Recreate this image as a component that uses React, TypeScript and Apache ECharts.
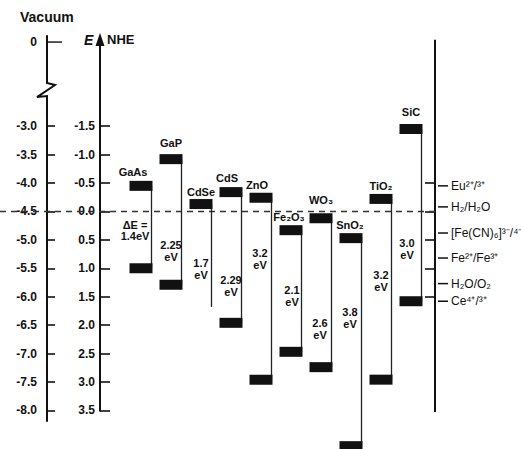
import React, { useEffect, useRef } from "react";
import * as echarts from "echarts";

// ---------- data ----------
const materials = ["GaAs", "GaP", "CdSe", "CdS", "ZnO", "Fe₂O₃", "WO₃", "SnO₂", "TiO₂", "SiC"];
const conductionBand = [-0.45, -0.92, -0.13, -0.34, -0.24, 0.33, 0.12, 0.47, -0.22, -1.45];
const valenceBand = [1.0, 1.29, 1.68, 1.96, 2.96, 2.47, 2.74, 4.13, 2.96, 1.58];
const valenceBarShown = [true, true, false, true, true, true, true, true, true, true];
const bandGapLabels = ["1.4", "2.25", "1.7", "2.29", "3.2", "2.1", "2.6", "3.8", "3.2", "3.0"];
const nheTicks = [-1.5, -1.0, -0.5, 0, 0.5, 1.0, 1.5, 2.0, 2.5, 3.0, 3.5];
const vacuumTicks = [-3.0, -3.5, -4.0, -4.5, -5.0, -5.5, -6.0, -6.5, -7.0, -7.5, -8.0];
const vacuumZeroAt = -1.52; // where the broken vacuum axis shows "0"
const rightAxisTicks = [-0.5, 0, 0.5, 1.0, 1.5];
const redoxCouples = ["Eu²⁺/³⁺", "H₂/H₂O", "[Fe(CN)₆]³⁻/⁴⁻", "Fe²⁺/Fe³⁺", "H₂O/O₂", "Ce⁴⁺/³⁺"];
const redoxLevels = [-0.45, -0.08, 0.38, 0.82, 1.27, 1.58];

// ---------- layout ----------
const gapLabelAt = [0.24, 0.59, 0.91, 1.21, 0.73, 1.38, 1.96, 1.77, 1.12, 0.56];
const gapLabelDx = [-6, 0, 0, 0, -1, 1, -1, -1, 0, -4];
const nameDx = [-8, 0, 0, -4, -4, -2, 0, -1, 0, 0];
const nameGap = [9, 11, 7, 9, 8, 8, 13, 8, 8, 12];

const FONT = "'Liberation Sans', Arial, Helvetica, sans-serif";
const INK = "#111";
const BAR_W = 23;
const BAR_H = 10;
const NHE_MIN = -3.72;
const NHE_MAX = 4.18;

function txt(text: string, x: number, y: number, size: number, weight: string, align: string) {
  return {
    type: "text",
    x,
    y,
    style: {
      text,
      fill: INK,
      fontSize: size,
      fontWeight: weight,
      fontFamily: FONT,
      align,
      verticalAlign: "middle",
      textAlign: align,
      textVerticalAlign: "middle",
    },
  };
}

export default function App() {
  const ref = useRef<HTMLDivElement>(null);

  useEffect(() => {
    document.body.style.margin = "0";
    if (!ref.current) return;
    const chart = echarts.init(ref.current, null, { renderer: "svg" });

    const labelStyle = { color: INK, fontSize: 12, fontWeight: "bold", fontFamily: FONT };

    const option: any = {
      animation: false,
      backgroundColor: "#fff",
      grid: { left: 100, right: 86, top: 0, bottom: 0 },
      xAxis: { type: "value", min: -1.3667, max: 9.8, show: false },
      yAxis: [
        {
          type: "value",
          inverse: true,
          min: NHE_MIN,
          max: NHE_MAX,
          position: "left",
          axisLine: { show: false, onZero: false },
          splitLine: { show: false },
          axisTick: { show: true, inside: true, length: 10, customValues: nheTicks, lineStyle: { color: INK, width: 1.6 } },
          axisLabel: { ...labelStyle, margin: 5, customValues: nheTicks, formatter: (v: number) => v.toFixed(1) },
        },
        {
          type: "value",
          min: -4.5 - NHE_MAX,
          max: -4.5 - NHE_MIN,
          position: "left",
          offset: 53,
          axisLine: { show: false, onZero: false },
          splitLine: { show: false },
          axisTick: { show: true, inside: true, length: 8, customValues: vacuumTicks, lineStyle: { color: INK, width: 1.6 } },
          axisLabel: {
            ...labelStyle,
            margin: 10,
            customValues: [vacuumZeroAt, ...vacuumTicks],
            formatter: (v: number) => (v > -2 ? "0" : v.toFixed(1)),
          },
        },
        {
          type: "value",
          inverse: true,
          min: NHE_MIN,
          max: NHE_MAX,
          position: "right",
          axisLine: { show: false, onZero: false },
          splitLine: { show: false },
          axisTick: { show: true, inside: true, length: 10, customValues: rightAxisTicks, lineStyle: { color: INK, width: 1.6 } },
          axisLabel: { show: false },
        },
      ],
      graphic: [
        { type: "text", left: 20, top: 10, style: { text: "Vacuum", fill: INK, fontSize: 14, fontWeight: "bold", fontFamily: FONT } },
        { type: "text", left: 84, top: 33, style: { text: "E", fill: INK, fontSize: 14, fontWeight: "bold", fontStyle: "italic", fontFamily: FONT } },
        { type: "text", left: 107, top: 33, style: { text: "NHE", fill: INK, fontSize: 13, fontWeight: "bold", fontFamily: FONT } },
      ],
      series: [
        {
          type: "custom",
          silent: true,
          clip: false,
          z: 1,
          data: [[0, 0]],
          renderItem: (params: any, api: any) => {
            const cs = params.coordSys;
            const leftX = cs.x;
            const rightX = cs.x + cs.width;
            const vacX = leftX - 53;
            const yAt = (e: number) => api.coord([0, e])[1];
            const children: any[] = [];
            // NHE axis with arrow
            const tip = yAt(-3.14);
            children.push({ type: "line", shape: { x1: leftX, y1: tip + 10, x2: leftX, y2: yAt(3.52) }, style: { stroke: INK, lineWidth: 2 } });
            children.push({ type: "polygon", shape: { points: [[leftX, tip], [leftX - 4.5, tip + 13], [leftX + 4.5, tip + 13]] }, style: { fill: INK } });
            // vacuum axis with break
            const b1 = yAt(-2.33);
            const b2 = yAt(-2.03);
            children.push({
              type: "polyline",
              shape: {
                points: [
                  [vacX, yAt(-3.1)],
                  [vacX, b1],
                  [vacX, b1 + 4],
                  [vacX + 8, b1 + 6],
                  [vacX - 10, b2 + 1],
                  [vacX, b2],
                  [vacX, yAt(3.7)],
                ],
              },
              style: { stroke: INK, lineWidth: 2, fill: null },
            });
            const z0 = yAt(-4.5 - vacuumZeroAt);
            children.push({ type: "line", shape: { x1: vacX, y1: z0, x2: vacX + 15, y2: z0 }, style: { stroke: INK, lineWidth: 1.4 } });
            // right axis
            children.push({ type: "line", shape: { x1: rightX, y1: yAt(-3.02), x2: rightX, y2: yAt(3.53) }, style: { stroke: INK, lineWidth: 2 } });
            // dashed E = 0 line
            const y0 = yAt(0);
            children.push({ type: "line", shape: { x1: 0, y1: y0, x2: rightX, y2: y0 }, style: { stroke: "#333", lineWidth: 1.4, lineDash: [6, 5] } });
            // redox couples
            redoxCouples.forEach((name, k) => {
              const y = yAt(redoxLevels[k]);
              children.push({ type: "line", shape: { x1: rightX + 3, y1: y, x2: rightX + 13, y2: y }, style: { stroke: INK, lineWidth: 1.5 } });
              children.push(txt(name, rightX + 16, y, 12, "normal", "left"));
            });
            return { type: "group", children };
          },
        },
        {
          type: "custom",
          silent: true,
          clip: false,
          z: 2,
          data: materials.map((_, i) => [i, conductionBand[i], valenceBand[i]]),
          renderItem: (params: any, api: any) => {
            const i = params.dataIndex;
            const xv = api.value(0);
            const cx = api.coord([xv, 0])[0];
            const yCB = api.coord([xv, api.value(1)])[1];
            const yVB = api.coord([xv, api.value(2)])[1];
            const half = BAR_W / 2;
            const children: any[] = [];
            children.push({ type: "line", shape: { x1: cx + half - 1, y1: yCB, x2: cx + half - 1, y2: yVB }, style: { stroke: "#222", lineWidth: 1.3 } });
            children.push({ type: "rect", shape: { x: cx - half, y: yCB - BAR_H / 2, width: BAR_W, height: BAR_H }, style: { fill: INK } });
            if (valenceBarShown[i]) {
              children.push({ type: "rect", shape: { x: cx - half, y: yVB - BAR_H / 2, width: BAR_W, height: BAR_H }, style: { fill: INK } });
            }
            children.push(txt(materials[i], cx + nameDx[i], yCB - BAR_H / 2 - nameGap[i], 11, "bold", "center"));
            const gy = api.coord([xv, gapLabelAt[i]])[1];
            const gx = cx + gapLabelDx[i];
            if (i === 0) {
              children.push(txt("ΔE =", gx, gy, 11, "bold", "center"));
              children.push(txt(bandGapLabels[i] + "eV", gx, gy + 11, 11, "bold", "center"));
            } else {
              children.push(txt(bandGapLabels[i], gx, gy, 11, "bold", "center"));
              children.push(txt("eV", gx, gy + 12, 11, "bold", "center"));
            }
            return { type: "group", children };
          },
        },
      ],
    };

    chart.setOption(option);
    return () => chart.dispose();
  }, []);

  return <div ref={ref} style={{ width: 521, height: 449 }} />;
}
